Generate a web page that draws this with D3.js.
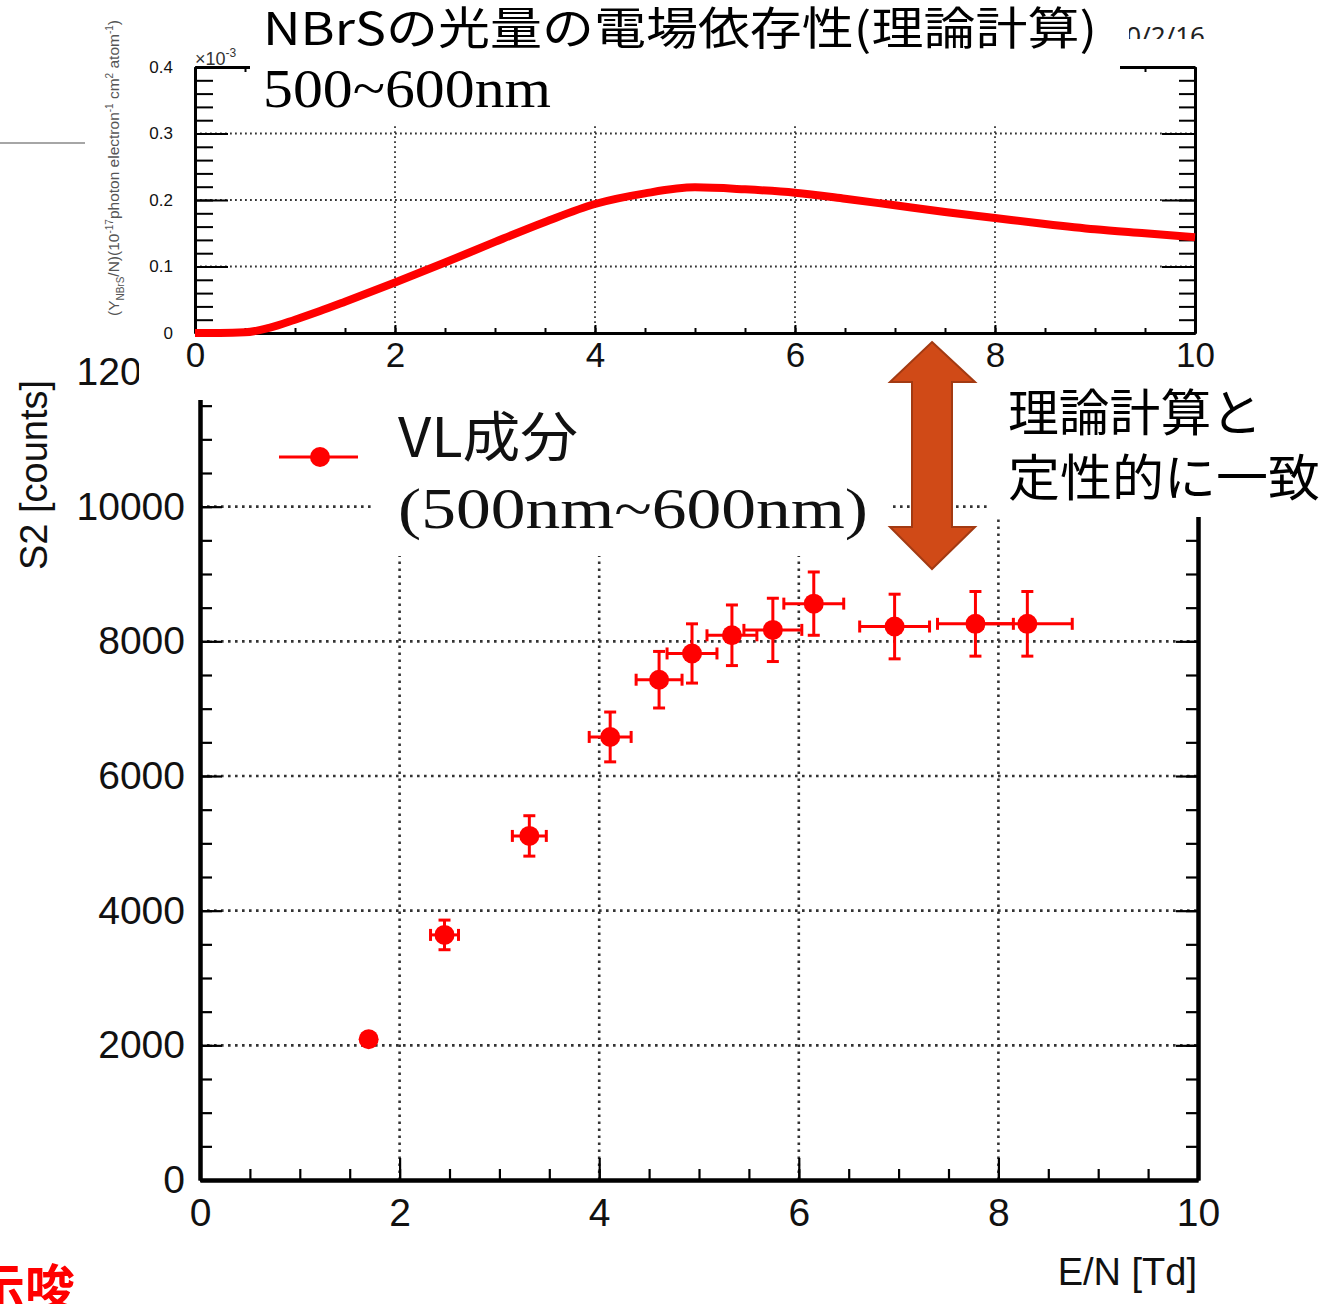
<!DOCTYPE html>
<html>
<head>
<meta charset="utf-8">
<script src="https://cdn.jsdelivr.net/npm/d3@7"></script>
<style>
  body { margin: 0; background: #fff; }
  svg { display: block; }
  .rootax text { font-family: "Liberation Sans", Arial, sans-serif; fill: #111; }
</style>
</head>
<body>
<script>
// measured S2 (VL component, 500-600nm)
var enVals = [1.69, 2.45, 3.30, 4.11, 4.60, 4.93, 5.33, 5.74, 6.15, 6.96, 7.77, 8.29];
var s2Vals = [2090, 3640, 5110, 6580, 7430, 7820, 8090, 8170, 8560, 8220, 8260, 8260];
var enErr  = [0.05, 0.14, 0.17, 0.21, 0.23, 0.25, 0.25, 0.29, 0.30, 0.35, 0.38, 0.45];
var s2Err  = [90, 220, 300, 370, 420, 440, 450, 470, 470, 480, 480, 480];

// theory curve (NBrS yield, x10^-3)
var thX = [0, 0.25, 0.5, 0.75, 1, 1.25, 1.5, 2, 2.5, 3, 3.5, 4, 4.5, 5, 5.5, 6, 6.5, 7, 7.5, 8, 8.5, 9, 9.5, 10];
var thY = [0, 0, 0.001, 0.008, 0.020, 0.033, 0.047, 0.076, 0.106, 0.137, 0.167, 0.194, 0.210, 0.219, 0.216, 0.211, 0.202, 0.192, 0.182, 0.173, 0.164, 0.156, 0.150, 0.144];

// ticks
var mainXTicks = [0, 2, 4, 6, 8, 10];
var mainYTicks = [0, 2000, 4000, 6000, 8000, 10000, 12000];
var topXTicks = [0, 2, 4, 6, 8, 10];
var topYTicks = [0, 0.1, 0.2, 0.3, 0.4];

var svg = d3.select("body").append("svg")
  .attr("width", 1332)
  .attr("height", 1304);

svg.append("rect").attr("width", 1332).attr("height", 1304).attr("fill", "#fff");

// ---------- main chart ----------
var x = d3.scaleLinear().domain([0, 10]).range([200, 1198]);
var y = d3.scaleLinear().domain([0, 12000]).range([1180, 372]);

var main = svg.append("g");

// dotted grid
main.append("g").selectAll("line")
  .data(mainYTicks.filter(d => d > 0 && d < 12000))
  .enter().append("line")
  .attr("x1", x(0)).attr("x2", x(10))
  .attr("y1", d => y(d)).attr("y2", d => y(d))
  .attr("stroke", "#333").attr("stroke-width", 2.6).attr("stroke-dasharray", "2.6 4.4");
main.append("g").selectAll("line")
  .data(mainXTicks.filter(d => d > 0 && d < 10))
  .enter().append("line")
  .attr("y1", y(0)).attr("y2", y(12000))
  .attr("x1", d => x(d)).attr("x2", d => x(d))
  .attr("stroke", "#333").attr("stroke-width", 2.6).attr("stroke-dasharray", "2.6 4.4");

function styleAxis(g, w, tw, fs) {
  g.attr("class", "rootax");
  g.select(".domain").attr("stroke", "#000").attr("stroke-width", w);
  g.selectAll(".tick line").attr("stroke", "#000").attr("stroke-width", tw);
  g.selectAll(".tick text").attr("font-size", fs);
}

// left
main.append("g").attr("transform", "translate(200,0)")
  .call(d3.axisLeft(y).tickValues(d3.range(0, 12001, 500)).tickSize(-12).tickSizeOuter(0).tickFormat(""))
  .call(g => styleAxis(g, 4, 2.2, 39));
main.append("g").attr("transform", "translate(200,0)")
  .call(d3.axisLeft(y).tickValues(mainYTicks).tickSize(-22).tickSizeOuter(0).tickPadding(15).tickFormat(d3.format("d")))
  .call(g => styleAxis(g, 4, 2.2, 39));
// bottom
main.append("g").attr("transform", "translate(0,1180)")
  .call(d3.axisBottom(x).tickValues(d3.range(0, 10.01, 0.5)).tickSize(-11).tickSizeOuter(0).tickFormat(""))
  .call(g => styleAxis(g, 4, 2.2, 39));
main.append("g").attr("transform", "translate(0,1180)")
  .call(d3.axisBottom(x).tickValues(mainXTicks).tickSize(-22).tickSizeOuter(0).tickPadding(18).tickFormat(d3.format("d")))
  .call(g => styleAxis(g, 4, 2.2, 39));
// right
main.append("g").attr("transform", "translate(1198,0)")
  .call(d3.axisRight(y).tickValues(d3.range(0, 12001, 500)).tickSize(-12).tickSizeOuter(0).tickFormat(""))
  .call(g => styleAxis(g, 4, 2.2, 39));
main.append("g").attr("transform", "translate(1198,0)")
  .call(d3.axisRight(y).tickValues(mainYTicks).tickSize(-22).tickSizeOuter(0).tickFormat(""))
  .call(g => styleAxis(g, 4, 2.2, 39));
// top
main.append("g").attr("transform", "translate(0,372)")
  .call(d3.axisTop(x).tickValues(mainXTicks).tickSize(-22).tickSizeOuter(0).tickFormat(""))
  .call(g => styleAxis(g, 4, 2.2, 39));

main.append("text")
  .attr("transform", "translate(47,475) rotate(-90)")
  .attr("text-anchor", "middle")
  .attr("font-family", "Liberation Sans, Arial, sans-serif")
  .attr("font-size", 38).attr("fill", "#111")
  .text("S2 [counts]");

main.append("text")
  .attr("x", 1197).attr("y", 1285)
  .attr("text-anchor", "end")
  .attr("font-family", "Liberation Sans, Arial, sans-serif")
  .attr("font-size", 38).attr("fill", "#111")
  .text("E/N [Td]");

// error bars + markers
var pts = enVals.map((d, i) => ({ x: d, y: s2Vals[i], ex: enErr[i], ey: s2Err[i] }));
var red = "#ff0000";
var pg = main.append("g").selectAll("g").data(pts).enter().append("g");
pg.append("line")
  .attr("x1", d => x(d.x - d.ex)).attr("x2", d => x(d.x + d.ex))
  .attr("y1", d => y(d.y)).attr("y2", d => y(d.y))
  .attr("stroke", red).attr("stroke-width", 3);
pg.append("line")
  .attr("x1", d => x(d.x)).attr("x2", d => x(d.x))
  .attr("y1", d => y(d.y - d.ey)).attr("y2", d => y(d.y + d.ey))
  .attr("stroke", red).attr("stroke-width", 3);
// caps
[-1, 1].forEach(function(s) {
  pg.append("line")
    .attr("x1", d => x(d.x + s * d.ex)).attr("x2", d => x(d.x + s * d.ex))
    .attr("y1", d => y(d.y) - 6).attr("y2", d => y(d.y) + 6)
    .attr("stroke", red).attr("stroke-width", 3);
  pg.append("line")
    .attr("x1", d => x(d.x) - 6).attr("x2", d => x(d.x) + 6)
    .attr("y1", d => y(d.y + s * d.ey)).attr("y2", d => y(d.y + s * d.ey))
    .attr("stroke", red).attr("stroke-width", 3);
});
pg.append("circle")
  .attr("cx", d => x(d.x)).attr("cy", d => y(d.y))
  .attr("r", 10).attr("fill", red);

// legend symbol
main.append("line").attr("x1", 279).attr("x2", 358).attr("y1", 457).attr("y2", 457)
  .attr("stroke", red).attr("stroke-width", 3);
main.append("circle").attr("cx", 320).attr("cy", 457).attr("r", 10).attr("fill", red);

// legend text box
svg.append("rect").attr("x", 372).attr("y", 398).attr("width", 518).attr("height", 158).attr("fill", "#fff");
svg.append("text")
  .attr("x", 398).attr("y", 457)
  .attr("font-family", "Noto Sans CJK JP, sans-serif")
  .attr("font-size", 54).attr("fill", "#111")
  .attr("textLength", 180).attr("lengthAdjust", "spacingAndGlyphs")
  .text("VL成分");
svg.append("text")
  .attr("x", 398).attr("y", 528)
  .attr("font-family", "Liberation Serif, DejaVu Serif, serif")
  .attr("font-size", 58).attr("fill", "#111")
  .attr("textLength", 470).attr("lengthAdjust", "spacingAndGlyphs")
  .text("(500nm~600nm)");

// right text box
svg.append("rect").attr("x", 990).attr("y", 372).attr("width", 342).attr("height", 145).attr("fill", "#fff");

// ---------- theory chart overlay ----------
svg.append("rect").attr("x", 139).attr("y", 0).attr("width", 1076).attr("height", 400).attr("fill", "#fff");

var tx = d3.scaleLinear().domain([0, 10]).range([195, 1195]);
var ty = d3.scaleLinear().domain([0, 0.4]).range([333, 67]);
var topG = svg.append("g");

topG.append("g").selectAll("line")
  .data(topYTicks.filter(d => d > 0 && d < 0.4))
  .enter().append("line")
  .attr("x1", tx(0)).attr("x2", tx(10))
  .attr("y1", d => ty(d)).attr("y2", d => ty(d))
  .attr("stroke", "#333").attr("stroke-width", 1.8).attr("stroke-dasharray", "1.8 3.2");
topG.append("g").selectAll("line")
  .data(topXTicks.filter(d => d > 0 && d < 10))
  .enter().append("line")
  .attr("y1", ty(0)).attr("y2", ty(0.4))
  .attr("x1", d => tx(d)).attr("x2", d => tx(d))
  .attr("stroke", "#333").attr("stroke-width", 1.8).attr("stroke-dasharray", "1.8 3.2");

topG.append("g").attr("transform", "translate(195,0)")
  .call(d3.axisLeft(ty).tickValues(d3.range(0, 0.4001, 0.02)).tickSize(-18).tickSizeOuter(0).tickFormat(""))
  .call(g => styleAxis(g, 3, 2, 17));
topG.append("g").attr("transform", "translate(195,0)")
  .call(d3.axisLeft(ty).tickValues(topYTicks).tickSize(-33).tickSizeOuter(0).tickPadding(22)
    .tickFormat(d => d === 0 ? "0" : d.toFixed(1)))
  .call(g => styleAxis(g, 3, 2, 17));
topG.append("g").attr("transform", "translate(1195,0)")
  .call(d3.axisRight(ty).tickValues(d3.range(0, 0.4001, 0.02)).tickSize(-16).tickSizeOuter(0).tickFormat(""))
  .call(g => styleAxis(g, 3, 2, 17));
topG.append("g").attr("transform", "translate(1195,0)")
  .call(d3.axisRight(ty).tickValues(topYTicks).tickSize(-33).tickSizeOuter(0).tickFormat(""))
  .call(g => styleAxis(g, 3, 2, 17));
topG.append("g").attr("transform", "translate(0,333)")
  .call(d3.axisBottom(tx).tickValues(d3.range(0, 10.01, 0.5)).tickSize(-5).tickSizeOuter(0).tickFormat(""))
  .call(g => styleAxis(g, 3, 2, 35));
topG.append("g").attr("transform", "translate(0,333)")
  .call(d3.axisBottom(tx).tickValues(topXTicks).tickSize(-8).tickSizeOuter(0).tickPadding(9).tickFormat(d3.format("d")))
  .call(g => styleAxis(g, 3, 2, 35));
topG.append("g").attr("transform", "translate(0,67)")
  .call(d3.axisTop(tx).tickValues(d3.range(0, 10.01, 0.5)).tickSize(-5).tickSizeOuter(0).tickFormat(""))
  .call(g => styleAxis(g, 3, 2, 35));

var line = d3.line().x(d => tx(d[0])).y(d => ty(d[1])).curve(d3.curveMonotoneX);
topG.append("path")
  .datum(thX.map((d, i) => [d, thY[i]]))
  .attr("d", line)
  .attr("fill", "none").attr("stroke", red).attr("stroke-width", 8);

var mult = topG.append("text").attr("x", 195).attr("y", 65)
  .attr("font-family", "Liberation Sans, Arial, sans-serif").attr("font-size", 18).attr("fill", "#333");
mult.append("tspan").text("×10");
mult.append("tspan").attr("font-size", 12).attr("dy", -8).text("-3");

var yt = topG.append("text")
  .attr("transform", "translate(119,168) rotate(-90)")
  .attr("text-anchor", "middle")
  .attr("font-family", "Liberation Sans, Arial, sans-serif")
  .attr("font-size", 15.5).attr("fill", "#555");
yt.append("tspan").text("(Y");
yt.append("tspan").attr("font-size", 10).attr("dy", 5).text("NBrS");
yt.append("tspan").attr("dy", -5).text("/N)(10");
yt.append("tspan").attr("font-size", 10).attr("dy", -6).text("-17");
yt.append("tspan").attr("dy", 6).text("photon electron");
yt.append("tspan").attr("font-size", 10).attr("dy", -6).text("-1");
yt.append("tspan").attr("dy", 6).text(" cm");
yt.append("tspan").attr("font-size", 10).attr("dy", -6).text("2");
yt.append("tspan").attr("dy", 6).text(" atom");
yt.append("tspan").attr("font-size", 10).attr("dy", -6).text("-1");
yt.append("tspan").attr("dy", 6).text(")");

// title box
svg.append("rect").attr("x", 250).attr("y", 0).attr("width", 870).attr("height", 124).attr("fill", "#fff");
svg.append("text")
  .attr("x", 263).attr("y", 45)
  .attr("font-family", "Noto Sans CJK JP, sans-serif")
  .attr("font-size", 45).attr("fill", "#000")
  .attr("textLength", 834).attr("lengthAdjust", "spacingAndGlyphs")
  .text("NBrSの光量の電場依存性(理論計算)");
svg.append("text")
  .attr("x", 263).attr("y", 107)
  .attr("font-family", "Liberation Serif, DejaVu Serif, serif")
  .attr("font-size", 54).attr("fill", "#000")
  .attr("textLength", 288).attr("lengthAdjust", "spacingAndGlyphs")
  .text("500~600nm");

// clipped date
svg.append("clipPath").attr("id", "dclip")
  .append("rect").attr("x", 1129).attr("y", 0).attr("width", 120).attr("height", 39);
svg.append("text")
  .attr("clip-path", "url(#dclip)")
  .attr("x", 1205).attr("y", 45)
  .attr("text-anchor", "end")
  .attr("font-family", "Noto Sans, sans-serif")
  .attr("font-size", 26).attr("fill", "#222")
  .text("10/2/16");

// slide decoration
svg.append("line").attr("x1", 0).attr("x2", 85).attr("y1", 143).attr("y2", 143)
  .attr("stroke", "#888").attr("stroke-width", 1.5);

// double arrow
svg.append("path")
  .attr("d", "M932,342 L975,382 L952,382 L952,527 L975,527 L932,569 L890,527 L912,527 L912,382 L890,382 Z")
  .attr("fill", "#d04a17").attr("stroke", "#a33a12").attr("stroke-width", 2);

svg.append("text")
  .attr("x", 1008).attr("y", 431)
  .attr("font-family", "Noto Sans CJK JP, sans-serif")
  .attr("font-size", 50).attr("fill", "#000")
  .attr("textLength", 254).attr("lengthAdjust", "spacingAndGlyphs")
  .text("理論計算と");
svg.append("text")
  .attr("x", 1008).attr("y", 496)
  .attr("font-family", "Noto Sans CJK JP, sans-serif")
  .attr("font-size", 50).attr("fill", "#000")
  .attr("textLength", 312).attr("lengthAdjust", "spacingAndGlyphs")
  .text("定性的に一致");

svg.append("text")
  .attr("x", -25).attr("y", 1306)
  .attr("font-family", "Noto Sans CJK JP, sans-serif")
  .attr("font-weight", "bold")
  .attr("font-size", 50).attr("fill", "#ff0000")
  .text("示唆");
</script>
</body>
</html>
